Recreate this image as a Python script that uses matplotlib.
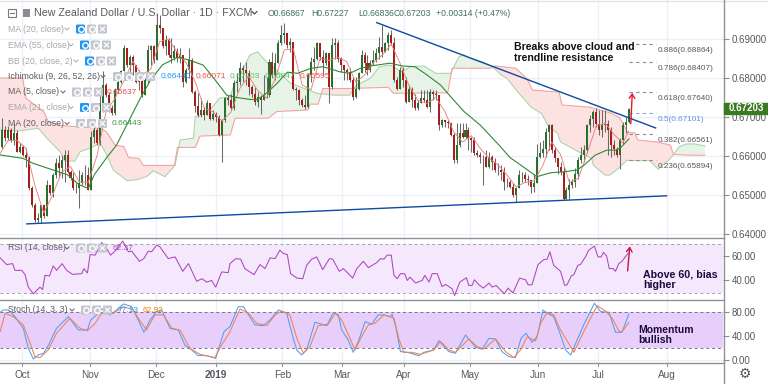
import numpy as np
import matplotlib
matplotlib.use("Agg")
import matplotlib.pyplot as plt
from matplotlib.patches import Rectangle, FancyBboxPatch

# ---------- data (prices in pips, i.e. price * 10000) ----------
first_bar = -8
closes = [6624,6667,6646,6667,6641,6658,6611,6624,
 6603,6594,6517,6475,6436,6440,6475,6445,6526,6505,
 6552,6581,6569,6590,6603,6560,6543,6517,6517,6530,
 6552,6552,6513,6650,6667,6633,6735,6782,6757,6723,
 6710,6770,6791,6817,6877,6834,6855,6834,6791,6804,
 6757,6795,6872,6881,6846,6936,6928,6881,6898,6859,
 6851,6868,6851,6859,6791,6821,6846,6765,6727,6706,
 6718,6705,6735,6696,6709,6701,6653,6692,6748,6743,
 6722,6786,6790,6825,6820,6812,6778,6760,6739,6752,
 6743,6756,6756,6842,6808,6838,6889,6910,6915,6885,
 6893,6773,6769,6743,6730,6726,6808,6842,6850,6889,
 6855,6838,6863,6778,6885,6889,6850,6833,6820,6816,
 6795,6752,6773,6812,6859,6838,6820,6838,6846,6863,
 6880,6867,6889,6910,6889,6795,6773,6820,6795,6739,
 6773,6743,6722,6735,6748,6743,6726,6765,6760,6756,
 6679,6692,6688,6684,6654,6590,6628,6658,6650,6667,
 6645,6641,6607,6602,6598,6598,6573,6598,6585,6564,
 6564,6560,6534,6534,6521,6500,6517,6551,6551,6542,
 6538,6521,6530,6598,6607,6619,6662,6679,6615,6594,
 6572,6560,6491,6512,6525,6534,6555,6589,6602,6615,
 6679,6696,6713,6683,6666,6679,6683,6666,6628,6619,
 6602,6641,6679,6687,6720]
highs = [6680,6697,6676,6676,6671,6684,6667,6633,
 6629,6620,6599,6522,6479,6453,6475,6475,6539,6526,
 6556,6594,6603,6603,6616,6616,6564,6560,6530,6564,
 6560,6577,6573,6663,6676,6671,6757,6817,6787,6765,
 6731,6774,6795,6821,6885,6864,6859,6859,6834,6821,
 6808,6800,6885,6885,6885,6966,6962,6928,6911,6902,
 6902,6885,6877,6877,6855,6825,6877,6851,6770,6761,
 6748,6726,6743,6735,6718,6713,6705,6696,6752,6756,
 6760,6795,6812,6842,6833,6842,6820,6782,6778,6765,
 6756,6808,6803,6850,6867,6863,6897,6936,6940,6902,
 6902,6893,6776,6773,6748,6756,6812,6855,6880,6893,
 6885,6872,6867,6855,6902,6902,6897,6855,6833,6825,
 6825,6803,6803,6816,6872,6867,6859,6846,6872,6876,
 6906,6936,6893,6919,6923,6906,6803,6829,6829,6803,
 6782,6778,6760,6743,6769,6769,6769,6773,6769,6769,
 6731,6696,6692,6692,6684,6658,6684,6684,6684,6684,
 6675,6650,6650,6615,6611,6602,6615,6611,6602,6594,
 6581,6577,6573,6543,6538,6530,6521,6564,6560,6560,
 6551,6538,6555,6632,6636,6641,6671,6683,6683,6624,
 6594,6585,6572,6521,6542,6542,6568,6598,6624,6628,
 6683,6705,6719,6722,6718,6718,6718,6692,6675,6641,
 6624,6645,6688,6701,6723]
lows = [6620,6620,6639,6641,6637,6629,6610,6607,
 6599,6573,6513,6470,6432,6428,6428,6442,6445,6500,
 6496,6543,6543,6543,6534,6556,6539,6513,6505,6466,
 6526,6526,6513,6513,6633,6629,6629,6714,6752,6714,
 6706,6706,6761,6787,6821,6829,6812,6808,6787,6770,
 6752,6757,6787,6834,6838,6889,6915,6877,6859,6855,
 6838,6846,6842,6838,6778,6787,6800,6761,6714,6701,
 6701,6692,6705,6692,6692,6688,6651,6585,6688,6730,
 6718,6718,6765,6782,6790,6782,6756,6752,6730,6726,
 6709,6748,6748,6752,6799,6795,6842,6885,6889,6876,
 6867,6769,6743,6730,6726,6720,6722,6790,6820,6846,
 6846,6808,6833,6735,6773,6850,6842,6816,6795,6795,
 6790,6743,6748,6769,6812,6816,6808,6816,6833,6842,
 6850,6855,6867,6872,6885,6790,6769,6773,6778,6735,
 6739,6726,6718,6718,6735,6739,6722,6714,6743,6743,
 6667,6675,6675,6673,6651,6583,6581,6624,6645,6645,
 6615,6611,6602,6598,6581,6526,6571,6568,6564,6560,
 6551,6538,6513,6521,6517,6496,6483,6517,6534,6534,
 6525,6504,6508,6542,6594,6598,6598,6615,6607,6585,
 6555,6551,6487,6491,6491,6517,6521,6542,6581,6585,
 6607,6662,6675,6675,6654,6649,6662,6602,6598,6602,
 6598,6566,6632,6658,6684]

ma5_idx = [-8,-5,-2,1,4,7,10,13,16,19,22,25,28,31,34,37,40,43,46,49,52,55,58,61,64,67,70,73,76,79,82,85,88,91,94,97,100,103,106,109,112,115,118,121,124,127,130,133,136,139,142,145,148,151,154,157,160,163,166,169,172,175,178,181,184,187,190,193,196,199,202,204]
ma5 = [6603,6640,6640,6620,6525,6454,6500,6559,6573,6533,6533,6603,6715,6748,6793,6843,6808,6822,6893,6900,6865,6838,6790,6724,6713,6690,6712,6773,6805,6768,6749,6800,6872,6875,6782,6770,6850,6845,6853,6842,6790,6807,6840,6859,6887,6837,6780,6742,6735,6750,6715,6662,6636,6652,6619,6594,6577,6551,6521,6532,6536,6575,6636,6604,6532,6543,6608,6677,6685,6655,6634,6664]

ma20_idx = [-8,-4.4,0,3.5,9,15,19,22,24,28,31.5,35.5,39.5,43,47,52,56,60.7,64.7,68.6,72,76.5,79,82,85.5,89,92.4,97,101,106.7,110,113.7,118,123.6,127.6,132,136,140.6,144,148.5,154,159.8,164,168.5,173,177.6,182.6,186.5,189,192.6,196.5,199.9,201.6,204]
ma20 = [6603,6599,6594,6581,6567,6552,6526,6517,6552,6594,6628,6688,6748,6795,6834,6853,6846,6833,6795,6756,6750,6745,6745,6761,6786,6815,6812,6825,6829,6816,6812,6825,6832,6838,6831,6829,6808,6782,6752,6714,6679,6632,6596,6572,6547,6557,6560,6564,6577,6602,6615,6615,6624,6644]

span_b_idx = [-7.7,-0.1,1,7,8.5,13,26,28,31,34,35.5,39,40.5,51,52,58,59.6,69.8,71.4,82.6,85.5,96,96.6,99.4,101,109,123,124.7,143,144.5,157.5,159,166,169.8,171.5,180.5,181.5,191,198,201,203.6,206,207,213.5,218,219,224.6,229.6]
span_b = [6800,6800,6748,6714,6688,6678,6671,6663,6628,6624,6596,6594,6576,6576,6622,6622,6651,6654,6697,6697,6714,6718,6733,6733,6773,6773,6776,6761,6762,6825,6825,6831,6825,6797,6769,6764,6731,6725,6710,6698,6660,6660,6641,6636,6628,6604,6602,6602]

span_a_idx = [-7.7,-2.1,1.2,5.2,8,12.5,14.1,17.5,19.2,22.5,26,28.2,30.4,35,38.3,41.6,43.9,47.8,51.2,52.9,57.4,58,60,63.5,66.3,69.7,70.8,73.6,76.4,79,82,85.4,90,94.4,99,104.5,110,112.3,116.9,120,123.6,127.6,130.5,135,139,144,146.8,148.5,150.7,154.6,158,161,163,166.5,171,174.6,177,180,181,188,191.5,192,196,197.6,200.4,203.3,206.7,211,213.9,218,221,223.4,226,229.6]
span_a = [6667,6664,6667,6671,6646,6611,6587,6587,6611,6620,6633,6603,6564,6537,6539,6547,6562,6547,6576,6641,6646,6701,6705,6723,6749,6751,6777,6815,6859,6867,6841,6820,6787,6774,6761,6756,6756,6782,6799,6829,6833,6816,6829,6831,6812,6812,6855,6859,6850,6842,6829,6808,6799,6765,6726,6709,6675,6658,6636,6607,6594,6577,6551,6551,6568,6589,6588,6588,6566,6594,6624,6631,6631,6626]

rsi_idx = [-7.7,-5.5,-3.5,-2.7,-0.4,0.7,1.8,3.5,5.7,6.6,7.4,8.9,10.2,11.3,13.2,14.7,16.7,19.8,20.5,21.7,22.6,24.3,26.5,28,29.5,31.3,33.6,35.5,36.6,39.2,40.7,42.2,43.3,45,46.1,48.9,51.2,53.8,55.7,58.5,60.2,61.9,63.5,64.9,66.9,69.1,69.7,71.7,73.3,74.7,77.8,79.8,81.5,83.2,84.9,86.5,87.7,89,90.1,92.2,94.2,95.5,97.2,98.9,100.9,103.2,104.3,106.5,107.9,111,112.4,114.6,116.3,119.1,120.4,121.5,122.6,124,124.9,126,127.1,128.5,129.4,130.3,132.2,134.4,135.3,136.7,137.8,139.5,141.1,142.3,144.5,145.3,147.1,149.3,150.1,151.2,152,153.5,155,156.9,158,159.3,162.1,163.3,165,167.2,169.2,170.1,171.4,173.4,175.4,176.5,177.4,178.7,181,182.4,183.2,184.6,185.5,186.8,187.7,189.4,190.5,192.4,193.6,194.7,195.4,196.5,197.4,198.7,199.5,200.6,201.7,203.4,204]
rsi = [58.4,52.9,53.7,48.2,48.2,44.7,34.5,29.0,34.5,32.6,44.1,43.6,51.8,48.2,53.7,48.2,44.9,45.5,49.6,46.0,61.1,60.6,71.0,66.6,60.6,64.7,72.1,63.3,63.9,55.6,57.8,63.9,63.3,68.8,67.4,57.8,59.2,47.4,53.7,39.2,41.4,38.6,40.0,34.5,46.9,46.3,53.7,57.8,57.3,49.6,44.7,52.9,49.6,58.4,57.8,64.7,61.9,61.1,45.5,41.9,41.4,52.3,57.3,59.2,48.8,57.8,57.3,47.4,49.6,41.9,49.6,55.6,50.4,54.5,57.8,57.3,60.6,60.6,44.1,41.4,45.5,45.5,40,42.7,37.8,40,44.1,38.6,45.5,45.5,35,36.7,33.1,27.6,38.6,42.2,35.9,35.9,40.5,36.4,33.7,37.8,34.5,35.9,29,33.7,29.8,41.9,40.5,36.4,36.4,52.9,57,57.3,63.3,52.3,47.4,35.9,36.4,43.6,44.7,52.3,52.9,59.2,64.7,68,59.2,59.2,62.8,60,49.6,49.6,47.4,53.7,55.6,61.1,62.37]

stoch_k_idx = [-7.7,-6.6,-4.9,-2.7,0.1,1.8,3.5,5.2,6.9,8.5,11.3,15.3,18.6,21.7,22.8,24.8,26.5,29.3,31.5,33.8,36.6,38.8,40.7,42.8,45,46.7,49.5,52.3,54.5,56.8,59,61.8,64.9,67.7,69.7,72.5,74.2,78.1,80.9,83.2,86,88.8,91,92.2,93.8,95.5,98.3,102.3,104.5,106.2,107.3,109.5,111.2,112.9,115.2,117.4,119.6,121.5,123.7,124.3,125.4,127.1,129.4,133.3,135,138.3,140,143.4,145.6,149,152.4,154.6,156.9,159.1,161.3,163.6,165.8,167.7,169.4,171.4,173.1,175.1,176.5,178.7,181,182.7,184.4,188.8,192.4,194.5,197.3,199.5,201.7,204]
stoch_k = [80,83.9,83.9,72.8,53.3,20,2.2,8.9,11.7,24.4,53.3,72.8,50.5,50.5,67.2,75.6,85.6,75.6,83.9,93.9,89.4,67.2,46.7,67.2,81.1,83.9,53.3,50.5,25.5,17.2,7.8,7.8,3.3,47.8,56.1,89.4,89.4,58.9,57.8,67.2,83.9,78.4,36.7,17.2,8.9,17.2,63.3,57.8,80,75.6,50.5,33.9,13.3,31.1,64.5,60,75.6,75.6,72.8,76.7,58.9,14.5,13.3,7.8,13.3,17.2,32.8,14.5,11.7,42.2,21.7,18.3,36.7,35.6,14.5,6.1,4.4,36.7,45,30,39.4,83.9,78.4,72.8,42.2,17.2,8.9,58.9,95,81.1,80,46.7,46.7,77.13]

stoch_d_idx = [-7.7,-6,-3.3,0.1,1.8,4,5.7,8.5,11.3,15.8,19.2,21.7,24.3,26.5,30.4,33.8,37.2,38.8,41.6,44.4,47.3,50.1,52.9,56.2,59.6,64.6,66.9,69.7,73.1,75.9,78.7,82.1,84.9,87.1,89.9,92.2,94.4,96.6,99.4,102.8,105.1,107.3,110.1,111.8,114,116.3,118.5,121.5,124.9,126.5,128.2,131,133.8,136.7,138.3,140.6,143.4,145.6,150.1,152.9,155.2,159.1,162.5,165.3,167.5,169.8,172.6,174.3,176.5,178.7,181,185.5,188.8,193.3,196.1,198.4,200.6,201.7,204]
stoch_d = [47.8,78.3,72.8,58.9,36.7,6.1,4.4,17.2,45,70,53.3,49.4,61.7,78.3,78.3,89.4,83.9,70,50.5,75.6,75.6,53.3,50.5,20,10,4.4,25.5,47.8,85.6,78.3,61.7,57.8,75.6,82.2,75.6,36.7,11.7,22.8,57.8,60,78.3,67.2,36.7,17.2,39.4,58.9,61.7,75.6,70,36.7,13.3,13.3,10,14.5,17.2,31.1,17.2,13.3,35.6,22.8,18.9,35.6,14.5,4.4,17.2,39.4,32.2,61.7,80,75.6,50.5,13.3,47.8,91.1,82.2,70,48.9,47.8,62.92]

tick_pos = [-0.2,22.6,44.8,64.9,87.3,107.3,128.3,150.4,173.5,193.7,216.9]
tick_labels = ["Oct","Nov","Dec","2019","Feb","Mar","Apr","May","Jun","Jul","Aug"]
price_ticks = [0.64,0.65,0.66,0.67,0.68,0.69]
fib_levels = ["0.886","0.786","0.618","0.5","0.382","0.236"]
fib_prices = [0.68864,0.68407,0.67640,0.67101,0.66561,0.65894]
last_price = 0.67203
res_idx = [119.1,213]; res_price = [0.6942,0.6672]
sup_idx = [1.3,216.7]; sup_price = [0.6426,0.6498]

# ---------- styles ----------
plt.rcParams['font.family'] = ['Liberation Sans','DejaVu Sans']
W,H = 768,384
fig = plt.figure(figsize=(W/100,H/100),dpi=100,facecolor='white')
XL = (-7.74,235.7)
GRID = '#eef0f6'; TICK='#55585f'

def pane(top,bot):
    ax = fig.add_axes([0,1-bot/H,723/W,(bot-top)/H])
    ax.set_xlim(*XL)
    for s in ax.spines.values(): s.set_visible(False)
    ax.yaxis.tick_right()
    ax.tick_params(axis='y',length=4,width=.8,color='#8a8d94',labelcolor=TICK,labelsize=7.0,pad=2)
    ax.tick_params(axis='x',length=0,labelbottom=False)
    ax.set_xticks(tick_pos)
    ax.grid(True,color=GRID,lw=1)
    ax.set_axisbelow(True)
    return ax

# ---------- price pane ----------
ax = pane(0,238)
ax.set_ylim(0.63898,0.7000)
ax.set_yticks(price_ticks)
ax.set_yticklabels([f"{p:.5f}" for p in price_ticks])

idx = np.arange(first_bar,first_bar+len(closes))
c = np.array(closes)/1e4; hi = np.array(highs)/1e4; lo = np.array(lows)/1e4
o = np.r_[0.6660,c[:-1]]
o[-1] = 0.66867
up = c>=o
ax.vlines(idx,np.minimum(lo,np.minimum(o,c)),np.maximum(hi,np.maximum(o,c)),color='#6a6a6a',lw=.75,zorder=3)
ax.bar(idx[up],(c-o)[up],bottom=o[up],width=.68,color='#2a6f2e',zorder=4)
ax.bar(idx[~up],(c-o)[~up],bottom=o[~up],width=.68,color='#a81c1c',zorder=4)

grid_x = np.arange(-7.7,229.65,0.05)
sa = np.interp(grid_x,span_a_idx,np.array(span_a)/1e4)
sb = np.interp(grid_x,span_b_idx,np.array(span_b)/1e4)
ax.fill_between(grid_x,sa,sb,where=sa>=sb,color='#e7f3e7',lw=0,zorder=1)
ax.fill_between(grid_x,sa,sb,where=sa<sb,color='#fde2e2',lw=0,zorder=1)
ax.plot(span_a_idx,np.array(span_a)/1e4,color='#a9d3a9',lw=.75,zorder=2)
ax.plot(span_b_idx,np.array(span_b)/1e4,color='#f2a09a',lw=.75,zorder=2)
ax.plot(ma5_idx,np.array(ma5)/1e4,color='#e8827c',lw=.65,zorder=5)
ax.plot(ma20_idx,np.array(ma20)/1e4,color='#2f8a34',lw=.8,zorder=5)
ax.plot(res_idx,res_price,color='#0f4aa3',lw=1.0,zorder=6)
ax.plot(sup_idx,sup_price,color='#0f4aa3',lw=1.0,zorder=6)
for lev,p in zip(fib_levels,fib_prices):
    col = '#7fa9f0' if lev=='0.5' else '#8a8a8a'
    ax.plot([204,213],[p,p],color=col,lw=.8,ls=(0,(3,3)),zorder=6)
    ax.annotate(f"{lev}({p:.5f})",(213.6,p),xytext=(0,-4.4),textcoords='offset points',
                color='#5b8ff0' if lev=='0.5' else '#55585f',fontsize=5.9,va='center',ha='left',zorder=7)
ax.annotate('',xy=(205.2,0.6769),xytext=(204.6,0.6676),
            arrowprops=dict(arrowstyle='->,head_width=.2,head_length=.3',color='#e5142c',lw=1.0),zorder=8)

# ---------- RSI pane ----------
ax2 = pane(238,299.5)
ax2.set_ylim(24.4,74.6)
ax2.set_yticks([40,60]); ax2.set_yticklabels(["40.00","60.00"])
ax2.axhspan(30,70,color='#f5e8fd',lw=0,zorder=1)
for v in (30,70): ax2.axhline(v,color='#a79cb0',lw=.7,ls=(0,(3,3)),zorder=2)
ax2.plot(rsi_idx,rsi,color='#ab47bc',lw=.75,zorder=3)
ax2.annotate('',xy=(204.4,70),xytext=(203.5,45.5),
             arrowprops=dict(arrowstyle='->,head_width=.2,head_length=.3',color='#c2183d',lw=1.0),zorder=8)

# ---------- Stochastic pane ----------
ax3 = pane(299.5,363)
ax3.set_ylim(-4.5,101.3)
ax3.set_yticks([0,40,80]); ax3.set_yticklabels(["0.00","40.00","80.00"])
ax3.axhspan(20,80,color='#e8cffb',lw=0,zorder=1)
for v in (20,80): ax3.axhline(v,color='#7d6f88',lw=.7,ls=(0,(3,3)),zorder=2)
ax3.plot(stoch_k_idx,stoch_k,color='#4f9ff0',lw=.75,zorder=3)
ax3.plot(stoch_d_idx,stoch_d,color='#f0824f',lw=.75,zorder=3)

# ---------- overlay: chrome, text, legends (pixel coordinates) ----------
ui = fig.add_axes([0,0,1,1],facecolor='none')
ui.set_xlim(0,W); ui.set_ylim(H,0); ui.axis('off')
SEP='#8f9299'
ui.plot([0,W],[0.5,0.5],color='#e3e5ea',lw=1)
ui.plot([723.5,723.5],[0,384],color=SEP,lw=1.0)
ui.plot([0,723.5],[238,238],color=SEP,lw=1.0)
ui.plot([0,723.5],[299.5,299.5],color=SEP,lw=1.0)
ui.plot([0,723.5],[363,363],color=SEP,lw=1.0)
for p,l in zip(tick_pos,tick_labels):
    px = 23+2.97*p
    ui.plot([px,px],[363,366],color=SEP,lw=.8)
    ui.text(px,374.5,l,ha='center',va='center',fontsize=7.2,color=TICK,
            fontweight='bold' if l=='2019' else 'normal')
ui.text(745,374,'\u2699',ha='center',va='center',fontsize=10,color='#50535a',family='DejaVu Sans')

# last price label
ui.add_patch(Rectangle((724,103),44,10.5,color='#3b7a1f',zorder=9))
ui.text(746,108.4,f"{last_price:.5f}",color='white',fontweight='bold',fontsize=7.0,ha='center',va='center',zorder=10)

# header
ui.add_patch(Rectangle((8,9),8,8,fill=False,ec='#777a80',lw=.8))
ui.plot([10,14],[13,13],color='#777a80',lw=.8)
ui.add_patch(Rectangle((23,9),7,8,color='#8a8c90',lw=0))
ui.text(33.5,13,"New Zealand Dollar / U.S. Dollar \u00b7 1D \u00b7 FXCM",fontsize=7.7,color='#55585f',va='center',ha='left')
ui.plot([252,254.5,257],[11.5,14,11.5],color='#444',lw=.8)
OHLC='#41705a'
for x,t in [(268,"O0.66867"),(311,"H0.67227"),(358,"L0.66836"),(394,"C0.67203"),(436,"+0.00314 (+0.47%)")]:
    ui.text(x,14,t,fontsize=6.2,color=OHLC,va='center',ha='left')

def box(x,y,kind,col):
    ui.add_patch(FancyBboxPatch((x+1,y-3.5),7,7,boxstyle='round,pad=1,rounding_size=1.2',fc=col,ec='none',zorder=7))
    if kind=='x':
        ui.plot([x+2.5,x+6.5],[y-2,y+2],color='white',lw=.9,zorder=8)
        ui.plot([x+2.5,x+6.5],[y+2,y-2],color='white',lw=.9,zorder=8)
    else:
        ui.plot([x+4.5],[y],marker='o',ms=4,mfc='none',mec='white',mew=1,zorder=8)

def legend(x,y,label,col,bx,hidden,vals=()):
    ui.text(x,y,label,fontsize=6.3,color=col,va='center',ha='left',zorder=9)
    ui.plot([bx-11,bx-9,bx-7],[y-1,y+1,y-1],color=col,lw=.7,zorder=9)
    box(bx,y,'o','#2196f3' if hidden else '#c3c6cf')
    box(bx+11,y,'o','#c3c6cf')
    box(bx+22,y,'x','#c3c6cf')
    for vx,t,vc in vals:
        ui.text(vx,y,t,fontsize=6.0,color=vc,va='center',ha='left',zorder=9)

G1='#a4a7ae'; D1='#5b5e65'
legend(8,29,"MA (20, close)",G1,76,True)
legend(8,45,"EMA (55, close)",G1,80,True)
legend(8,61,"BB (20, close, 2)",G1,85,True)
ui.text(8,76.5,"Ichimoku (9, 26, 52, 26)",fontsize=6.3,color=D1,va='center',ha='left',zorder=9)
ui.plot([101,103,105],[75.5,77.5,75.5],color=D1,lw=.7,zorder=9)
for bx,k in [(113,'o'),(124,'o'),(135,'o'),(146,'x')]:
    box(bx,76.5,k,'#c3c6cf')
for vx,t,vc in [(161,"0.66440",'#2196f3'),(196,"0.66071",'#ef5350'),(230,"0.67203",'#66bb6a'),(265,"0.65847",'#66bb6a'),(300,"0.66595",'#ef5350')]:
    ui.text(vx,76.5,t,fontsize=6.0,color=vc,va='center',ha='left',zorder=9)
legend(8,92,"MA (5, close)",D1,72,False,[(107,"0.66637",'#e0524a')])
legend(8,107.5,"EMA (21, close)",G1,80,True)
legend(8,123.5,"MA (20, close)",D1,76,False,[(112,"0.66443",'#3f9a45')])
legend(8,248,"RSI (14, close)",D1,76,False,[(113,"62.37",'#ab47bc')])
legend(8,310,"Stoch (14, 3, 3)",D1,81,False,[(118,"77.13",'#2196f3'),(143,"62.92",'#f57c00')])

NOTE='#1b0a3c'
ui.text(514,52.5,"Breaks above cloud and\ntrendline resistance",fontsize=7.6,fontweight='bold',color='#111',va='center',ha='left',linespacing=1.05,zorder=9)
ui.text(643,280,"Above 60, bias\nhigher",fontsize=7.7,fontweight='bold',color=NOTE,va='center',ha='left',linespacing=1.05,zorder=9)
ui.text(638,335,"Momentum\nbullish",fontsize=7.5,fontweight='bold',color=NOTE,va='center',ha='left',linespacing=1.05,zorder=9)

fig.savefig('out.png',dpi=100,facecolor='white')
